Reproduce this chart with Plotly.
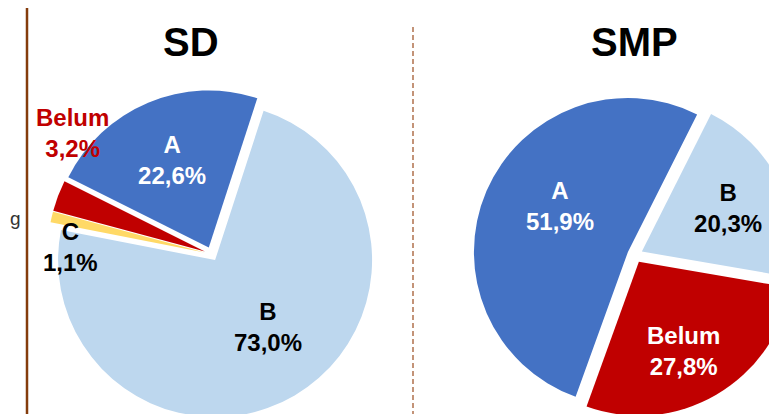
import plotly.graph_objects as go

# ---- data ----
sd_labels = ["A", "Belum", "C", "B"]
sd_values = [22.6, 3.2, 1.1, 73.0]
smp_labels = ["A", "Belum", "B"]
smp_values = [51.9, 27.8, 20.3]
titles = ["SD", "SMP"]

# ---- styles ----
color_map = {"A": "#4472C4", "B": "#BDD7EE", "Belum": "#C00000", "C": "#FFD966"}
inside_text_color = {"A": "white", "B": "black", "Belum": "white", "C": "black"}
FONT = "Liberation Sans, Arial, sans-serif"

# The page shows the figure with an 8px offset; the figure is a bit larger
# than the window so the pies can run off the right/bottom edges like the slide.
OFF = 8
W, H = 800, 440


def px_x(p):
    return (p - OFF) / W


def px_y(p):
    return 1 - (p - OFF) / H


def pie_domain(cx, cy, half):
    return dict(x=[px_x(cx - half), px_x(cx + half)],
                y=[px_y(cy + half), px_y(cy - half)])


def start_rotation(first_edge_deg, values):
    # counterclockwise pies: first slice spans [rotation, rotation + its share]
    return first_edge_deg - 360 * values[0] / sum(values)


# label placement (slide-style) for slices whose label is not at plotly's default spot
sd_label_pos = {"Belum": (72, 133, "#C00000"), "C": (70, 247, "black"),
                "B": (268, 327, "black")}
smp_label_pos = {"A": (560, 206, "white"), "Belum": (683, 351, "white")}

fig = go.Figure()

# SD pie
sd_pull = 0.045
fig.add_trace(go.Pie(
    labels=sd_labels, values=sd_values, sort=False,
    direction="counterclockwise", rotation=start_rotation(18, sd_values),
    pull=[sd_pull] * len(sd_values),
    marker=dict(colors=[color_map[l] for l in sd_labels], line=dict(width=0)),
    texttemplate="%{label}<br>%{value:.1f}%",
    textposition=["none" if l in sd_label_pos else "inside" for l in sd_labels],
    insidetextorientation="horizontal",
    textfont=dict(family=FONT, size=24, weight="bold",
                  color=[inside_text_color[l] for l in sd_labels]),
    domain=pie_domain(211.5, 254, 157 * (1 + sd_pull)),
    hoverinfo="label+percent", showlegend=False,
))

# SMP pie
smp_pull = 0.05
fig.add_trace(go.Pie(
    labels=smp_labels, values=smp_values, sort=False,
    direction="counterclockwise", rotation=start_rotation(26.7, smp_values),
    pull=[smp_pull] * len(smp_values),
    marker=dict(colors=[color_map[l] for l in smp_labels], line=dict(width=0)),
    texttemplate="%{label}<br>%{value:.1f}%",
    textposition=["none" if l in smp_label_pos else "inside" for l in smp_labels],
    insidetextorientation="horizontal",
    textfont=dict(family=FONT, size=24, weight="bold",
                  color=[inside_text_color[l] for l in smp_labels]),
    domain=pie_domain(635, 255, 154 * (1 + smp_pull)),
    hoverinfo="label+percent", showlegend=False,
))

annotations = []
# titles
for t, cx in zip(titles, [191, 634]):
    annotations.append(dict(
        text=t, x=px_x(cx), y=px_y(42), xref="paper", yref="paper",
        xanchor="center", yanchor="middle", showarrow=False,
        font=dict(family=FONT, size=40, weight="bold", color="black")))

# slice labels placed like the slide
for labels, values, pos in [(sd_labels, sd_values, sd_label_pos),
                            (smp_labels, smp_values, smp_label_pos)]:
    for l, v in zip(labels, values):
        if l in pos:
            x, y, c = pos[l]
            annotations.append(dict(
                text=f"{l}<br>{v:.1f}%".replace(".", ","),
                x=px_x(x), y=px_y(y), xref="paper", yref="paper",
                xanchor="center", yanchor="middle", showarrow=False,
                font=dict(family=FONT, size=24, weight="bold", color=c)))

# cut-off text fragment at the left edge
annotations.append(dict(
    text="g", x=0, y=px_y(219), xref="paper", yref="paper",
    xanchor="left", yanchor="middle", showarrow=False,
    font=dict(family=FONT, size=19, color="#333333")))

shapes = [
    dict(type="line", xref="paper", yref="paper",
         x0=px_x(27), x1=px_x(27), y0=0, y1=1,
         line=dict(color="#843C0C", width=2.5)),
    dict(type="line", xref="paper", yref="paper",
         x0=px_x(413), x1=px_x(413), y0=0, y1=px_y(27),
         line=dict(color="#B0704C", width=1.5, dash="5px,3px")),
]

fig.update_layout(
    width=W, height=H,
    margin=dict(l=0, r=0, t=0, b=0),
    paper_bgcolor="white", plot_bgcolor="white",
    separators=", ",
    annotations=annotations, shapes=shapes,
    font=dict(family=FONT),
)

fig.write_html("out.html")
